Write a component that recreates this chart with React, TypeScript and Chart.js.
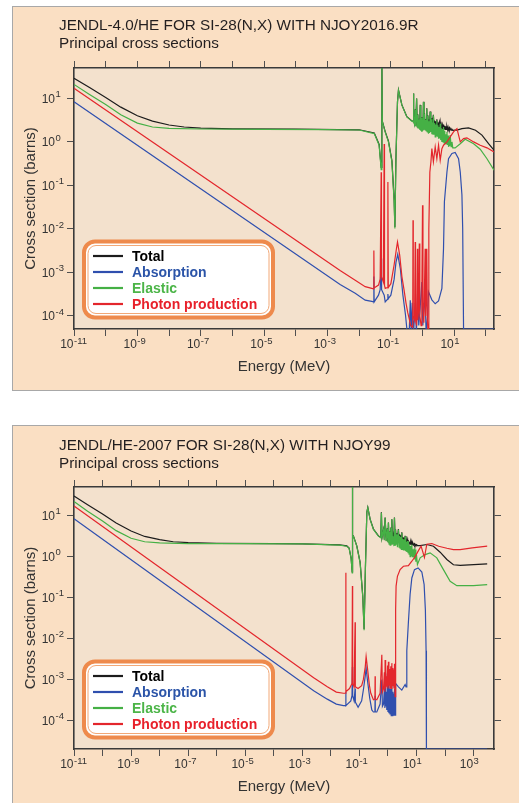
import React, { useEffect, useRef } from 'react';
import { Chart, registerables } from 'chart.js';
Chart.register(...registerables);

const FONT = '"Liberation Sans", Arial, Helvetica, sans-serif';
const PANEL_BG = '#fadfc3';
const PLOT_BG = '#f3e1cd';

// ---- labels ----
const seriesLabels = ['Total', 'Absorption', 'Elastic', 'Photon production'];
const lineColors = ['#1c1c1c', '#2f4fae', '#45b045', '#e3262c'];
const legendTextColors = ['#000000', '#2b54a8', '#4cb548', '#e8202a'];
const topTitle = ['JENDL-4.0/HE FOR SI-28(N,X) WITH NJOY2016.9R', 'Principal cross sections'];
const bottomTitle = ['JENDL/HE-2007 FOR SI-28(N,X) WITH NJOY99', 'Principal cross sections'];
const xAxisTitle = 'Energy (MeV)';
const yAxisTitle = 'Cross section (barns)';

// ---- tick exponents (labels read "10" with a raised exponent) ----
const topXTickExps = [-11, -10, -9, -8, -7, -6, -5, -4, -3, -2, -1, 0, 1, 2];
const topXLabelExps = [-11, -9, -7, -5, -3, -1, 1];
const bottomXTickExps = [-11, -10, -9, -8, -7, -6, -5, -4, -3, -2, -1, 0, 1, 2, 3];
const bottomXLabelExps = [-11, -9, -7, -5, -3, -1, 1, 3];
const yTickExps = [-4, -3, -2, -1, 0, 1];

// ---- TOP chart data: JENDL-4.0/HE, [energy MeV, barns] ----
const topTotal: [number, number][] = [[1e-11,29],[3e-11,18],[1e-10,10.5],[3e-10,6.3],[1e-9,4.0],[3e-9,3.0],[1e-8,2.45],[3e-8,2.2],[1e-7,2.08],[1e-6,2.0],[1e-4,1.97],[0.01,1.9],[0.03,1.6],[0.0426,0.88],[0.0495,0.26],[0.052,80],[0.054,2.95],[0.066,1.74],[0.084,1.04],[0.108,0.37],[0.127,0.047],[0.134,0.011],[0.144,0.37],[0.162,8.4],[0.174,15.5],[0.223,7.1],[0.32,3.8],[0.461,3.05],[0.51,2.95],[0.518,13],[0.53,3.05],[0.56,2.6],[0.587,5.6],[0.61,2.4],[0.65,10],[0.68,2.3],[0.71,4.3],[0.73,2.1],[0.78,3.4],[0.81,2.0],[0.844,7.1],[0.88,1.9],[0.92,3.7],[0.956,1.8],[1.0,3.1],[1.03,1.9],[1.07,8.4],[1.11,2.0],[1.15,4.6],[1.21,2.0],[1.28,3.3],[1.32,1.9],[1.36,5.9],[1.42,1.9],[1.47,4.1],[1.54,2.3],[1.62,3.3],[1.67,2.5],[1.74,5.0],[1.82,2.6],[1.88,3.5],[1.97,2.5],[2.08,3.2],[2.14,2.4],[2.2,4.2],[2.3,2.4],[2.4,3.1],[2.51,2.3],[2.63,3.0],[2.72,2.3],[2.83,3.3],[2.95,2.2],[3.05,2.8],[3.2,2.2],[3.35,2.7],[3.45,2.1],[3.61,2.8],[3.75,2.1],[3.9,2.5],[4.08,2.05],[4.3,2.45],[4.45,2.0],[4.59,2.5],[4.8,2.0],[5.0,2.35],[5.19,1.95],[5.5,2.3],[5.7,1.95],[5.89,2.25],[6.2,1.9],[6.4,2.15],[6.61,1.9],[7.0,2.1],[7.2,1.88],[7.45,2.05],[8.0,1.86],[8.5,1.95],[9.0,1.85],[10.7,1.86],[12.2,1.86],[17.5,2.02],[28.2,2.1],[47,1.86],[75,1.43],[121,0.91],[180,0.645]];
const topAbsorption: [number, number][] = [[1e-11,8.4],[2.5e-3,5.3e-4],[7.5e-3,3.3e-4],[0.0155,2.3e-4],[0.025,2.15e-4],[0.0285,2.1e-4],[0.0291,8e-4],[0.0297,2.1e-4],[0.0407,3.0e-4],[0.046,4e-4],[0.0495,2.1e-3],[0.051,4e-4],[0.0616,3e-4],[0.0663,2.1e-4],[0.078,2.4e-4],[0.0806,3.2e-4],[0.083,2.5e-4],[0.1,3e-4],[0.127,7e-4],[0.145,1.7e-3],[0.165,2.6e-3],[0.2,1.2e-3],[0.24,3e-4],[0.29,1.05e-4],[0.33,4e-5],[0.38,4e-5],[0.41,2.3e-4],[0.44,4e-5],[0.47,2e-4],[0.52,4e-5],[0.59,2e-4],[0.64,4e-5],[0.7,3.6e-4],[0.76,6e-5],[0.84,1.5e-4],[0.95,6e-4],[1.02,6e-5],[1.2,3e-4],[1.3,4e-5],[1.45,1e-4],[1.54,3.6e-4],[1.97,2.34e-4],[2.51,1.9e-4],[3.2,2.2e-4],[4.08,4.3e-4],[4.59,3.5e-3],[4.9,0.042],[5.89,0.204],[6.61,0.41],[8.46,0.54],[10.7,0.57],[13.7,0.41],[15.5,0.204],[17.5,0.06],[18.5,0.01],[19.7,5e-5],[180,5e-5]];
const topElastic: [number, number][] = [[1e-11,21],[3e-11,12.5],[1e-10,7.2],[3e-10,4.2],[1e-9,2.7],[3e-9,2.2],[1e-8,2.05],[1e-7,1.98],[1e-5,1.95],[1e-3,1.92],[0.01,1.88],[0.03,1.55],[0.0426,0.84],[0.0495,0.23],[0.052,80],[0.054,2.9],[0.066,1.7],[0.084,1.0],[0.108,0.35],[0.127,0.042],[0.134,0.0102],[0.144,0.35],[0.162,8.3],[0.174,15.4],[0.223,7.0],[0.32,3.76],[0.461,3.0],[0.51,2.9],[0.518,12.9],[0.53,3.0],[0.56,2.5],[0.587,5.5],[0.61,2.3],[0.65,9.9],[0.68,2.2],[0.71,4.2],[0.73,2.0],[0.78,3.3],[0.81,1.9],[0.844,7.0],[0.88,1.8],[0.92,3.6],[0.956,1.7],[1.0,3.0],[1.03,1.8],[1.07,8.3],[1.11,1.9],[1.15,4.5],[1.21,1.9],[1.28,3.2],[1.32,1.8],[1.36,5.8],[1.42,1.7],[1.47,4.0],[1.54,1.55],[1.62,3.0],[1.67,1.6],[1.74,4.9],[1.82,1.7],[1.88,3.3],[1.97,1.5],[2.08,2.8],[2.14,1.5],[2.2,4.1],[2.3,1.5],[2.4,2.7],[2.51,1.3],[2.63,2.5],[2.72,1.4],[2.83,3.15],[2.95,1.35],[3.05,2.4],[3.2,1.19],[3.35,2.2],[3.45,1.2],[3.61,2.63],[3.75,1.1],[3.9,2.0],[4.08,1.0],[4.3,1.9],[4.45,1.0],[4.59,2.21],[4.8,0.95],[5.0,1.8],[5.19,0.91],[5.5,1.5],[5.7,0.9],[5.89,1.7],[6.2,0.85],[6.4,1.4],[6.61,0.77],[7.0,1.3],[7.2,0.8],[7.45,1.43],[8.0,0.78],[8.5,1.0],[9.0,0.73],[10.7,0.73],[15.5,0.91],[22.2,1.15],[41,0.91],[66,0.68],[108,0.41],[180,0.224]];
const topPhoton: [number, number][] = [[1e-11,17.2],[2.5e-3,1.1e-3],[7.5e-3,6.6e-4],[0.0155,4.7e-4],[0.025,4.3e-4],[0.0285,4.2e-4],[0.0291,3.2e-3],[0.0297,4.4e-4],[0.0407,5.1e-4],[0.046,7e-4],[0.0495,0.2],[0.0505,8e-4],[0.058,6e-4],[0.0616,0.9],[0.063,5e-4],[0.0663,4.3e-4],[0.078,4.5e-4],[0.0806,0.12],[0.083,4.5e-4],[0.1,5.5e-4],[0.127,1.5e-3],[0.15,3.5e-3],[0.162,5.0e-3],[0.19,2.5e-3],[0.223,8e-4],[0.26,4e-4],[0.3,2.0e-4],[0.34,1.2e-4],[0.38,8.5e-5],[0.42,6e-5],[0.49,5.5e-5],[0.5,0.0158],[0.51,1e-4],[0.56,8e-5],[0.587,5e-3],[0.6,9e-5],[0.65,6e-5],[0.69,3.5e-3],[0.71,8e-5],[0.76,1.5e-4],[0.79,4.6e-3],[0.82,1e-4],[0.9,6e-5],[0.95,3e-4],[1.0,0.035],[1.03,2e-4],[1.1,7e-5],[1.21,3.5e-3],[1.25,1e-4],[1.3,2e-4],[1.36,3.5e-3],[1.42,8e-5],[1.5,4e-5],[1.58,0.01],[1.7,0.2],[1.84,0.35],[1.97,0.7],[2.2,0.35],[2.51,0.77],[2.83,0.41],[3.2,0.84],[3.61,0.38],[4.08,0.7],[4.59,0.84],[5.89,1.0],[7.45,1.3],[9.5,1.7],[12.2,2.02],[15.5,1.0],[19.7,1.19],[25.1,1.24],[41,1.0],[66,0.84],[108,0.73],[180,0.59]];

// ---- BOTTOM chart data: JENDL/HE-2007 ----
const bottomTotal: [number, number][] = [[1e-11,30],[3e-11,18.5],[1e-10,11],[3e-10,6.6],[1e-9,4.2],[3e-9,3.1],[1e-8,2.6],[3e-8,2.3],[1e-7,2.18],[1e-6,2.1],[1e-4,2.07],[1e-3,2.05],[0.02,1.92],[0.0361,1.82],[0.0435,1.62],[0.0512,0.92],[0.056,0.42],[0.0569,80],[0.058,3.25],[0.0616,3.2],[0.081,1.82],[0.106,0.72],[0.131,0.11],[0.146,0.017],[0.162,0.5],[0.182,12],[0.197,15.8],[0.237,8.2],[0.31,4.7],[0.464,3.2],[0.56,2.95],[0.59,12],[0.62,2.95],[0.7,4.6],[0.75,2.6],[0.796,9.0],[0.87,2.45],[0.95,4.9],[1.0,2.3],[1.04,6.8],[1.1,2.2],[1.15,4.1],[1.19,2.2],[1.26,5.1],[1.32,2.4],[1.37,8.2],[1.45,2.6],[1.55,3.4],[1.62,2.7],[1.69,9.0],[1.78,2.8],[1.85,4.6],[1.93,2.8],[2.05,3.7],[2.15,2.7],[2.33,4.7],[2.45,2.6],[2.58,3.5],[2.67,2.5],[2.8,3.3],[2.95,2.4],[3.06,3.9],[3.2,2.35],[3.35,3.0],[3.49,2.3],[3.65,2.9],[3.8,2.25],[4.0,3.2],[4.2,2.2],[4.4,2.6],[4.58,2.15],[4.9,2.6],[5.05,2.1],[5.21,2.5],[5.5,2.05],[5.75,2.3],[5.98,2.0],[6.3,2.25],[6.6,1.98],[6.87,2.2],[7.2,1.95],[7.5,2.1],[7.82,1.92],[8.4,2.05],[8.7,1.9],[8.96,2.0],[9.5,1.88],[10.0,1.95],[10.8,1.86],[13.4,1.86],[23,1.97],[39.3,1.79],[67.4,1.28],[116,0.85],[197,0.63],[339,0.61],[3000,0.665]];
const bottomAbsorption: [number, number][] = [[1e-11,8.4],[2.5e-3,5.3e-4],[7.5e-3,3.3e-4],[0.0155,2.5e-4],[0.0275,2.3e-4],[0.033,2.3e-4],[0.0334,5e-4],[0.0338,2.3e-4],[0.05,3e-4],[0.055,4e-4],[0.0569,2e-3],[0.058,4e-4],[0.065,3e-4],[0.0707,6e-4],[0.072,2.8e-4],[0.09,2.1e-4],[0.12,3e-4],[0.14,6e-4],[0.16,1.2e-3],[0.172,1.9e-3],[0.19,1e-3],[0.23,3.5e-4],[0.272,1.8e-4],[0.31,1.6e-4],[0.35,1.6e-4],[0.355,4e-4],[0.36,1.6e-4],[0.407,1.6e-4],[0.531,2.5e-4],[0.61,1e-3],[0.64,2.2e-4],[0.7,2.5e-4],[0.75,6e-4],[0.78,2e-4],[0.796,1.4e-3],[0.83,2.2e-4],[0.88,5e-4],[0.91,1.8e-4],[0.97,8e-4],[1.0,1.6e-4],[1.04,8e-4],[1.08,1.5e-4],[1.13,6e-4],[1.18,1.4e-4],[1.26,6e-4],[1.3,1.3e-4],[1.37,7e-4],[1.42,1.3e-4],[1.48,5e-4],[1.55,4e-4],[1.62,1.3e-4],[1.7,6e-4],[1.78,1.35e-4],[1.86,8e-4],[2.33,6.6e-4],[3.06,5.5e-4],[4.0,7.5e-4],[4.3,6.6e-4],[4.58,5e-3],[5.21,0.025],[5.98,0.12],[6.87,0.3],[8.5,0.48],[11.4,0.53],[15.4,0.42],[18.5,0.21],[20.5,0.05],[21.7,0.005],[22.3,2e-5],[3000,2e-5]];
const bottomElastic: [number, number][] = [[1e-11,22],[3e-11,12.8],[1e-10,7.4],[3e-10,4.3],[1e-9,2.8],[3e-9,2.3],[1e-8,2.15],[1e-7,2.08],[1e-5,2.06],[1e-3,2.04],[0.02,1.9],[0.0361,1.79],[0.0435,1.6],[0.0512,0.9],[0.056,0.4],[0.0569,80],[0.058,3.2],[0.0616,3.15],[0.081,1.79],[0.106,0.7],[0.131,0.106],[0.146,0.016],[0.162,0.48],[0.182,11.8],[0.197,15.6],[0.237,8.1],[0.31,4.6],[0.464,3.15],[0.56,2.9],[0.59,11.8],[0.62,2.9],[0.7,4.5],[0.75,2.5],[0.796,8.9],[0.87,2.37],[0.95,4.8],[1.0,2.2],[1.04,6.7],[1.1,2.0],[1.15,4.0],[1.19,1.9],[1.26,5.0],[1.32,2.0],[1.37,8.1],[1.45,2.0],[1.55,3.15],[1.62,1.8],[1.69,8.9],[1.78,1.9],[1.85,4.5],[1.93,2.0],[2.05,3.5],[2.15,1.7],[2.33,4.6],[2.45,1.7],[2.58,3.2],[2.67,1.6],[2.8,3.0],[2.95,1.5],[3.06,3.8],[3.2,1.5],[3.35,2.7],[3.49,1.45],[3.65,2.6],[3.8,1.4],[4.0,3.15],[4.2,1.35],[4.4,2.3],[4.58,1.3],[4.9,2.4],[5.05,1.25],[5.21,2.37],[5.5,1.15],[5.75,1.9],[5.98,1.0],[6.3,1.8],[6.6,1.05],[6.87,1.97],[7.2,1.0],[7.5,1.5],[7.82,0.95],[8.4,1.6],[8.7,0.85],[8.96,1.48],[9.5,0.75],[10.0,1.1],[10.8,0.64],[13.4,0.93],[20.1,1.12],[30,1.23],[51.6,0.93],[88,0.48],[151,0.25],[259,0.195],[991,0.195],[3000,0.206]];
const bottomPhoton: [number, number][] = [[1e-11,17.2],[2.5e-3,1.1e-3],[7.5e-3,6.6e-4],[0.0155,4.9e-4],[0.0275,4.6e-4],[0.033,4.6e-4],[0.0334,0.4],[0.0338,5e-4],[0.045,6e-4],[0.055,8e-4],[0.0569,0.19],[0.058,8e-4],[0.065,6.6e-4],[0.0707,0.025],[0.072,6.6e-4],[0.09,6e-4],[0.12,7e-4],[0.138,1e-3],[0.16,2e-3],[0.172,3.6e-3],[0.19,2e-3],[0.225,7e-4],[0.251,4.6e-4],[0.31,3.2e-4],[0.35,3.3e-4],[0.355,1.2e-3],[0.36,3.3e-4],[0.407,3.2e-4],[0.531,4.6e-4],[0.61,4e-3],[0.64,5e-4],[0.7,6e-4],[0.75,1.5e-3],[0.78,5e-4],[0.796,3e-3],[0.83,6e-4],[0.88,1.2e-3],[0.91,6.6e-4],[0.97,2.2e-3],[1.0,6e-4],[1.04,2.7e-3],[1.08,7e-4],[1.13,1.8e-3],[1.18,6e-4],[1.26,2.1e-3],[1.3,6e-4],[1.37,2.5e-3],[1.42,7e-4],[1.48,1.9e-3],[1.55,1.55e-3],[1.62,6e-4],[1.7,2.4e-3],[1.78,3.8e-4],[1.86,0.05],[1.93,0.19],[2.15,0.33],[2.67,0.48],[3.49,0.58],[5.21,0.6],[6.87,0.77],[8.96,1.0],[11.7,1.4],[14.5,1.8],[19,0.95],[23,2.0],[34.5,2.08],[60,1.79],[116,1.6],[197,1.48],[339,1.48],[900,1.63],[3000,1.79]];

const LABEL_COLOR = '#333333';
const BASE_FONT = `12px ${FONT}`;
const EXP_FONT = `9.5px ${FONT}`;

const plotBg = {
  id: 'plotBg',
  beforeDraw(chart: any) {
    const { ctx, chartArea: a } = chart;
    ctx.save();
    ctx.fillStyle = PLOT_BG;
    ctx.fillRect(a.left, a.top, a.right - a.left, a.bottom - a.top);
    ctx.restore();
  },
};

// draws "10" with a raised exponent; the "10" ends at baseX
function drawPow(ctx: any, baseX: number, baseY: number, expY: number, e: number) {
  ctx.font = BASE_FONT;
  ctx.textAlign = 'right';
  ctx.fillText('10', baseX, baseY);
  ctx.font = EXP_FONT;
  ctx.textAlign = 'left';
  ctx.fillText(String(e), baseX + 0.5, expY);
}

const makeTickLabelPlugin = (xLabelExps: number[]) => ({
  id: 'powTickLabels',
  afterDraw(chart: any) {
    const ctx = chart.ctx;
    const xs = chart.scales.x;
    const ys = chart.scales.y;
    ctx.save();
    ctx.fillStyle = LABEL_COLOR;
    ctx.textBaseline = 'alphabetic';
    xLabelExps.forEach((e) => {
      const px = xs.getPixelForValue(Number('1e' + e));
      drawPow(ctx, px - 0.5, xs.top + 19.3, xs.top + 14.6, e);
    });
    yTickExps.forEach((e) => {
      const py = ys.getPixelForValue(Number('1e' + e));
      drawPow(ctx, ys.right - 19, py + 4.3, py - 1.3, e);
    });
    ctx.restore();
  },
});

const makeTitlePlugin = (lines: string[]) => ({
  id: 'panelTitle',
  afterDraw(chart: any) {
    const ctx = chart.ctx;
    ctx.save();
    ctx.font = `15.3px ${FONT}`;
    ctx.fillStyle = '#231f20';
    ctx.textAlign = 'left';
    ctx.textBaseline = 'alphabetic';
    ctx.fillText(lines[0], 59, 30);
    ctx.fillText(lines[1], 59, 48.3);
    ctx.restore();
  },
});

const boxLegend = {
  id: 'boxLegend',
  afterDatasetsDraw(chart: any) {
    const ctx = chart.ctx;
    const x0 = 82, y0 = 239.5, w = 193, h = 80;
    ctx.save();
    ctx.beginPath();
    ctx.roundRect(x0 + 2, y0 + 2, w - 4, h - 4, 11);
    ctx.fillStyle = '#ffffff';
    ctx.fill();
    ctx.lineWidth = 4;
    ctx.strokeStyle = '#ee8a4c';
    ctx.stroke();
    ctx.beginPath();
    ctx.roundRect(x0 + 6, y0 + 6, w - 12, h - 12, 8);
    ctx.lineWidth = 1;
    ctx.strokeStyle = '#f2a877';
    ctx.stroke();
    chart.data.datasets.forEach((ds: any, i: number) => {
      const cy = y0 + 16.5 + 16 * i;
      ctx.beginPath();
      ctx.moveTo(x0 + 11, cy);
      ctx.lineTo(x0 + 41, cy);
      ctx.lineWidth = 2.2;
      ctx.strokeStyle = ds.borderColor;
      ctx.stroke();
      ctx.font = `bold 14px ${FONT}`;
      ctx.fillStyle = legendTextColors[i];
      ctx.textAlign = 'left';
      ctx.textBaseline = 'alphabetic';
      ctx.fillText(ds.label, x0 + 50, cy + 5);
    });
    ctx.restore();
  },
};

type Spec = {
  title: string[];
  series: [number, number][][];
  xMin: number; xMax: number; yMin: number; yMax: number;
  xTickExps: number[]; xLabelExps: number[];
  topH: number;
};

function buildConfig(spec: Spec): any {
  const grid = { drawOnChartArea: false, drawTicks: true, tickLength: 7, color: '#505050', lineWidth: 1 };
  const border = { display: true, color: '#3a3a3a', width: 1.6 };
  const xTicks = (s: any) => { s.ticks = spec.xTickExps.map((e) => ({ value: Number('1e' + e) })); };
  const yTicks = (s: any) => { s.ticks = yTickExps.map((e) => ({ value: Number('1e' + e) })); };
  const titleFont = { family: FONT, size: 15 };
  const orders = [3, 2, 1, 0];
  return {
    type: 'line',
    data: {
      datasets: spec.series.map((pts, i) => ({
        label: seriesLabels[i],
        data: pts.map(([x, y]) => ({ x, y })),
        borderColor: lineColors[i],
        backgroundColor: lineColors[i],
        borderWidth: 1.2,
        pointRadius: 0,
        tension: 0,
        fill: false,
        order: orders[i],
      })),
    },
    options: {
      responsive: false,
      animation: false,
      layout: { padding: 0 },
      plugins: { legend: { display: false }, tooltip: { enabled: false }, title: { display: false } },
      scales: {
        x: {
          type: 'logarithmic', position: 'bottom', min: spec.xMin, max: spec.xMax,
          grid, border,
          afterBuildTicks: xTicks,
          afterFit: (s: any) => { s.height = 71; },
          ticks: { display: false },
          title: { display: true, text: xAxisTitle, color: '#333', font: titleFont, padding: { top: 0, bottom: 24.5 } },
        },
        xTop: {
          type: 'logarithmic', position: 'top', min: spec.xMin, max: spec.xMax,
          grid, border,
          afterBuildTicks: xTicks,
          afterFit: (s: any) => { s.height = spec.topH; },
          ticks: { display: false },
        },
        y: {
          type: 'logarithmic', position: 'left', min: spec.yMin, max: spec.yMax,
          grid, border,
          afterBuildTicks: yTicks,
          afterFit: (s: any) => { s.width = 74; },
          ticks: { display: false },
          title: { display: true, text: yAxisTitle, color: '#333', font: titleFont, padding: { top: 22, bottom: 0 } },
        },
        yRight: {
          type: 'logarithmic', position: 'right', min: spec.yMin, max: spec.yMax,
          grid, border,
          afterBuildTicks: yTicks,
          afterFit: (s: any) => { s.width = 25; },
          ticks: { display: false },
        },
      },
    },
    plugins: [plotBg, makeTickLabelPlugin(spec.xLabelExps), makeTitlePlugin(spec.title), boxLegend],
  };
}

function ChartPanel({ top, spec }: { top: number; spec: Spec }) {
  const ref = useRef<HTMLCanvasElement | null>(null);
  useEffect(() => {
    if (!ref.current) return;
    const chart = new Chart(ref.current, buildConfig(spec));
    return () => chart.destroy();
  }, []);
  return (
    <canvas
      ref={ref}
      width={519}
      height={400}
      style={{ position: 'absolute', left: 0, top, width: 519, height: 400, display: 'block' }}
    />
  );
}

const topSpec: Spec = {
  title: topTitle,
  series: [topTotal, topAbsorption, topElastic, topPhoton],
  xMin: 1e-11, xMax: 180, yMin: 5e-5, yMax: 50,
  xTickExps: topXTickExps, xLabelExps: topXLabelExps, topH: 68,
};
const bottomSpec: Spec = {
  title: bottomTitle,
  series: [bottomTotal, bottomAbsorption, bottomElastic, bottomPhoton],
  xMin: 1e-11, xMax: 5200, yMin: 2e-5, yMax: 50,
  xTickExps: bottomXTickExps, xLabelExps: bottomXLabelExps, topH: 67,
};

export default function App() {
  return (
    <div style={{ position: 'absolute', left: 0, top: 0, width: 519, height: 803, overflow: 'hidden', background: '#ffffff' }}>
      <div style={{ position: 'absolute', left: 12, top: 6, width: 600, height: 385, boxSizing: 'border-box', border: '1px solid #a8a8a8', background: PANEL_BG }} />
      <div style={{ position: 'absolute', left: 12, top: 425, width: 600, height: 500, boxSizing: 'border-box', border: '1px solid #a8a8a8', background: PANEL_BG }} />
      <ChartPanel top={0} spec={topSpec} />
      <ChartPanel top={420} spec={bottomSpec} />
    </div>
  );
}
